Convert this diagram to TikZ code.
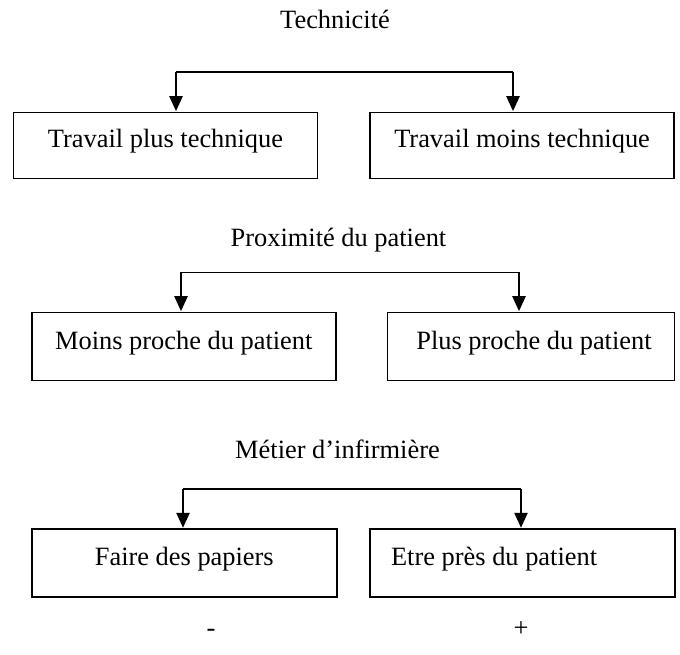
\documentclass[tikz,border=0pt]{standalone}
\usepackage{fontspec}
\setmainfont{Liberation Serif}
\usetikzlibrary{arrows.meta}
\begin{document}
\begin{tikzpicture}[x=1pt,y=-1pt,
  every node/.style={font=\fontsize{26.4}{30}\selectfont, inner sep=0pt},
  boxnode/.style={draw, line width=1.6pt, rectangle, anchor=north west,
    text height=18pt, text depth=13pt},
  titlenode/.style={anchor=base},
  hline/.style={line width=1.6pt},
  arrowline/.style={line width=2.4pt, -{Triangle[width=13pt,length=15pt]}, shorten >=0.5pt}
]
\useasboundingbox (0,0) rectangle (680,655);
% Section 1
\node[titlenode] (t1) at (335,29) {Technicité};
\node[boxnode, minimum width=304pt, minimum height=66pt] (a1) at (12.7,111.7) {Travail plus technique};
\node[boxnode, minimum width=304pt, minimum height=66pt] (b1) at (369.3,111.7) {Travail moins technique};
\coordinate (h1l) at (176,72.3);
\coordinate (h1r) at (513,72.3);
\draw[hline] (h1l) -- (h1r);
\draw[arrowline] (h1l) -- (h1l |- a1.north);
\draw[arrowline] (h1r) -- (h1r |- b1.north);
% Section 2
\node[titlenode] (t2) at (338.5,247) {Proximité du patient};
\node[boxnode, minimum width=304pt, minimum height=68pt] (a2) at (31,311.7) {Moins proche du patient};
\node[boxnode, minimum width=287pt, minimum height=68pt] (b2) at (386.7,311.7) {\hspace*{6pt}Plus proche du patient};
\coordinate (h2l) at (181,272.3);
\coordinate (h2r) at (519,272.3);
\draw[hline] (h2l) -- (h2r);
\draw[arrowline] (h2l) -- (h2l |- a2.north);
\draw[arrowline] (h2r) -- (h2r |- b2.north);
% Section 3
\node[titlenode] (t3) at (337.5,458) {Métier d’infirmière};
\node[boxnode, minimum width=305pt, minimum height=68pt] (a3) at (31,528.3) {Faire des papiers};
\node[boxnode, minimum width=305pt, minimum height=68pt] (b3) at (369.3,528.3) {\makebox[263pt][l]{Etre près du patient}};
\coordinate (h3l) at (183,489);
\coordinate (h3r) at (521,489);
\draw[hline] (h3l) -- (h3r);
\draw[arrowline] (h3l) -- (h3l |- a3.north);
\draw[arrowline] (h3r) -- (h3r |- b3.north);
% Scale
\node[titlenode] (minus) at (211,636) {-};
\node[titlenode] (plus) at (521,636) {+};
\end{tikzpicture}
\end{document}
